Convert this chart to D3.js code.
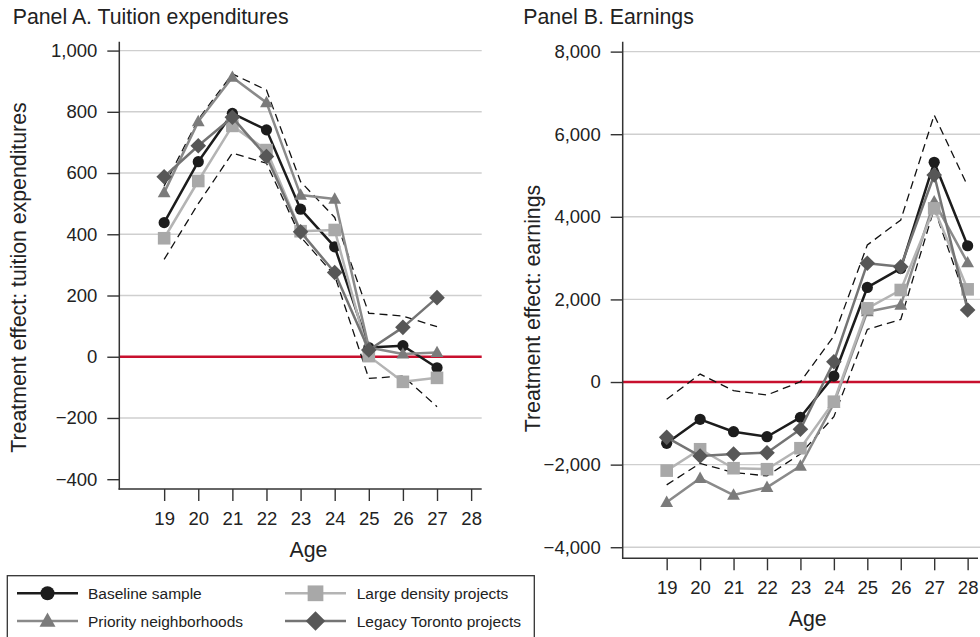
<!DOCTYPE html>
<html>
<head>
<meta charset="utf-8">
<script src="https://cdn.jsdelivr.net/npm/d3@7"></script>
<style>
  html, body { margin: 0; padding: 0; background: #fff; }
  svg { display: block; font-family: "Liberation Sans", Arial, Helvetica, sans-serif; }
</style>
</head>
<body>
<svg id="chart" width="980" height="637"></svg>
<script>
// ---------------- DATA ----------------
const agesA = [19, 20, 21, 22, 23, 24, 25, 26, 27];
const agesB = [19, 20, 21, 22, 23, 24, 25, 26, 27, 28];
const ageTicks = [19, 20, 21, 22, 23, 24, 25, 26, 27, 28];
const yTicksA = [-400, -200, 0, 200, 400, 600, 800, 1000];
const yTicksB = [-4000, -2000, 0, 2000, 4000, 6000, 8000];

// Panel A: tuition expenditures
const tuitionBaseline = [438, 637, 795, 741, 482, 359, 30, 36, -36];
const tuitionPriority = [536, 768, 913, 830, 528, 515, 30, 9, 14];
const tuitionLarge    = [387, 574, 754, 675, 410, 414, 2, -82, -69];
const tuitionLegacy   = [588, 689, 782, 654, 408, 275, 22, 96, 193];
const tuitionUpper    = [558, 775, 924, 871, 572, 455, 142, 133, 98];
const tuitionLower    = [318, 500, 665, 632, 392, 265, -71, -63, -163];

// Panel B: earnings
const earnBaseline = [-1484, -903, -1203, -1324, -855, 145, 2290, 2750, 5320, 3300];
const earnPriority = [-2913, -2332, -2736, -2550, -2034, -515, 1703, 1864, 4366, 2889];
const earnLarge    = [-2145, -1628, -2087, -2111, -1603, -476, 1784, 2228, 4205, 2244];
const earnLegacy   = [-1339, -1792, -1743, -1712, -1145, 492, 2874, 2792, 5012, 1743];
const earnUpper    = [-419, 193, -210, -314, 7, 1112, 3317, 3923, 6465, 4746];
const earnLower    = [-2491, -1969, -2192, -2273, -1741, -838, 1274, 1516, 4200, 1880];

const seriesNames = ["Baseline sample", "Priority neighborhoods", "Large density projects", "Legacy Toronto projects"];

// ---------------- STYLE ----------------
const styles = [
  { line: "#1c1c1c", fill: "#1c1c1c", shape: "circle" },
  { line: "#8a8a8a", fill: "#7b7b7b", shape: "triangle" },
  { line: "#b4b4b4", fill: "#a8a8a8", shape: "square" },
  { line: "#747474", fill: "#575757", shape: "diamond" }
];

const svg = d3.select("#chart");
const fmt = d3.format(",");
const TEXT = "#222";
const LABEL_SIZE = 21.3;
const TICK_SIZE = 18.5;

function shapePath(shape, k) {
  if (shape === "circle") {
    const r = 5.6 * k;
    return `M${-r},0A${r},${r} 0 1,0 ${r},0A${r},${r} 0 1,0 ${-r},0Z`;
  }
  if (shape === "square") {
    const h = 6.3 * k;
    return `M${-h},${-h}H${h}V${h}H${-h}Z`;
  }
  if (shape === "triangle") {
    const t = 6.8 * k, b = 4.6 * k, w = 6.4 * k;
    return `M0,${-t}L${w},${b}L${-w},${b}Z`;
  }
  const d = 7.8 * k;
  return `M0,${-d}L${d},0L0,${d}L${-d},0Z`;
}

function panel(cfg) {
  const g = svg.append("g");
  const x = d3.scaleLinear().domain([17.685, 28.31]).range([cfg.x0, cfg.x1]);
  const y = d3.scaleLinear().domain(cfg.yDomain).range([cfg.yBottom, cfg.yTop]);
  const gridRight = cfg.gridRight;

  // gridlines
  g.append("g").selectAll("line")
    .data(cfg.yTicks.filter(v => v !== 0 && cfg.gridTicks.includes(v)))
    .join("line")
    .attr("x1", cfg.x0).attr("x2", gridRight)
    .attr("y1", d => y(d)).attr("y2", d => y(d))
    .attr("stroke", "#cfcfcf").attr("stroke-width", 1.4);

  // zero line
  g.append("line")
    .attr("x1", cfg.x0).attr("x2", gridRight)
    .attr("y1", y(0)).attr("y2", y(0))
    .attr("stroke", "#c8102e").attr("stroke-width", 2.6);

  // y axis
  const ya = g.append("g").attr("transform", `translate(${cfg.x0},0)`)
    .call(d3.axisLeft(y).tickValues(cfg.yTicks).tickFormat(fmt).tickSize(12).tickPadding(10));
  ya.select(".domain").remove();
  ya.selectAll(".tick line").attr("stroke", "#333").attr("stroke-width", 1.4);
  ya.selectAll(".tick text").attr("font-size", TICK_SIZE).attr("fill", TEXT)
    .attr("font-family", "Liberation Sans, Arial, sans-serif");
  g.append("line").attr("x1", cfg.x0).attr("x2", cfg.x0)
    .attr("y1", cfg.yTop).attr("y2", cfg.yBottom + 0.7)
    .attr("stroke", "#333").attr("stroke-width", 1.5);

  // x axis
  const xa = g.append("g").attr("transform", `translate(0,${cfg.yBottom})`)
    .call(d3.axisBottom(x).tickValues(ageTicks).tickFormat(d3.format("d")).tickSize(12).tickPadding(10.5));
  xa.select(".domain").remove();
  xa.selectAll(".tick line").attr("stroke", "#333").attr("stroke-width", 1.4);
  xa.selectAll(".tick text").attr("font-size", TICK_SIZE).attr("fill", TEXT)
    .attr("font-family", "Liberation Sans, Arial, sans-serif");
  g.append("line").attr("x1", cfg.x0 - 0.7).attr("x2", cfg.x1)
    .attr("y1", cfg.yBottom).attr("y2", cfg.yBottom)
    .attr("stroke", "#333").attr("stroke-width", 1.5);

  const line = d3.line().x((d, i) => x(cfg.ages[i])).y(d => y(d));

  // confidence bands
  [cfg.upper, cfg.lower].forEach(arr => {
    g.append("path").attr("d", line(arr)).attr("fill", "none")
      .attr("stroke", "#111").attr("stroke-width", 1.3).attr("stroke-dasharray", "8,5");
  });

  // series
  cfg.series.forEach((arr, si) => {
    const st = styles[si];
    g.append("path").attr("d", line(arr)).attr("fill", "none")
      .attr("stroke", st.line).attr("stroke-width", 2.5).attr("stroke-linejoin", "round");
    g.append("g").selectAll("path").data(arr).join("path")
      .attr("transform", (d, i) => `translate(${x(cfg.ages[i])},${y(d)})`)
      .attr("d", shapePath(st.shape, 1))
      .attr("fill", st.fill);
  });

  // title
  g.append("text").attr("x", cfg.titleX).attr("y", 24)
    .attr("font-size", LABEL_SIZE).attr("fill", TEXT).text(cfg.title);
  // y label
  g.append("text")
    .attr("transform", `translate(${cfg.ylabX},${cfg.ylabY}) rotate(-90)`)
    .attr("text-anchor", "middle").attr("font-size", LABEL_SIZE).attr("fill", TEXT)
    .text(cfg.ylabel);
  // x label
  g.append("text").attr("x", cfg.xlabX).attr("y", cfg.yBottom + 67.5)
    .attr("text-anchor", "middle").attr("font-size", LABEL_SIZE).attr("fill", TEXT)
    .text("Age");
}

panel({
  x0: 119.3, x1: 481.7, gridRight: 481.7,
  yDomain: [-432, 1029], yBottom: 489, yTop: 41.7,
  yTicks: yTicksA, gridTicks: [-200, 200, 400, 600, 800, 1000],
  ages: agesA,
  series: [tuitionBaseline, tuitionPriority, tuitionLarge, tuitionLegacy],
  upper: tuitionUpper, lower: tuitionLower,
  title: "Panel A. Tuition expenditures", titleX: 12.7,
  ylabel: "Treatment effect: tuition expenditures", ylabX: 26, ylabY: 277.5,
  xlabX: 308.5
});

panel({
  x0: 622.7, x1: 978, gridRight: 980,
  yDomain: [-4268, 8240], yBottom: 558.3, yTop: 41.7,
  yTicks: yTicksB, gridTicks: [-4000, -2000, 2000, 4000, 6000, 8000],
  ages: agesB,
  series: [earnBaseline, earnPriority, earnLarge, earnLegacy],
  upper: earnUpper, lower: earnLower,
  title: "Panel B. Earnings", titleX: 523.3,
  ylabel: "Treatment effect: earnings", ylabX: 539.5, ylabY: 308.5,
  xlabX: 807.7
});

// ---------------- LEGEND ----------------
const lg = svg.append("g");
lg.append("rect").attr("x", 7.3).attr("y", 575.7).attr("width", 527).attr("height", 80)
  .attr("fill", "#fff").attr("stroke", "#333").attr("stroke-width", 1.3);
const legendPos = [
  { lx0: 17, lx1: 78, tx: 88, y: 593.3 },
  { lx0: 17, lx1: 78, tx: 88, y: 621 },
  { lx0: 285, lx1: 346, tx: 356.7, y: 593.3 },
  { lx0: 285, lx1: 346, tx: 356.7, y: 621 }
];
seriesNames.forEach((name, i) => {
  const p = legendPos[i], st = styles[i];
  lg.append("line").attr("x1", p.lx0).attr("x2", p.lx1).attr("y1", p.y).attr("y2", p.y)
    .attr("stroke", st.line).attr("stroke-width", 2.5);
  lg.append("path").attr("transform", `translate(${(p.lx0 + p.lx1) / 2},${p.y})`)
    .attr("d", shapePath(st.shape, 1.25)).attr("fill", st.fill);
  lg.append("text").attr("x", p.tx).attr("y", p.y).attr("dy", "0.36em")
    .attr("font-size", 15.5).attr("fill", TEXT).text(name);
});
</script>
</body>
</html>
